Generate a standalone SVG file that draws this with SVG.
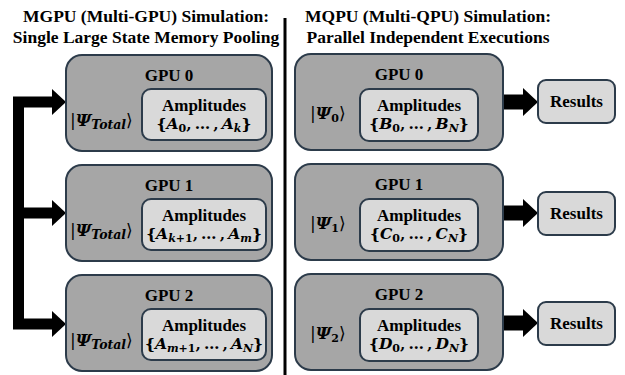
<svg xmlns="http://www.w3.org/2000/svg" width="625" height="375" viewBox="0 0 625 375">
<style>
.title{font-family:"Liberation Serif","Times New Roman",serif;font-weight:bold;font-size:17.5px;fill:#000;text-anchor:middle}
.outer{fill:#a6a6a6;stroke:#2c3b4a;stroke-width:2}
.inner{fill:#d9d9d9;stroke:#2c3b4a;stroke-width:2}
.lbl{font-family:"Liberation Serif","Times New Roman",serif;font-weight:bold;font-size:17px;fill:#000;text-anchor:middle}
.math{font-family:"DejaVu Serif",serif;font-weight:bold;font-size:15.5px;fill:#000}
.psi{font-size:17px}
.mid{text-anchor:middle}
.it{font-style:italic}
.sub{font-size:11px}
.subT{font-size:12.5px}
.br{font-weight:normal}
.conn{fill:none;stroke:#000;stroke-width:11;stroke-linejoin:miter}
.connR{fill:none;stroke:#000;stroke-width:15}
.head{fill:#000}
</style>
<text class="title" x="146" y="22">MGPU (Multi-GPU) Simulation:</text>
<text class="title" x="146" y="43">Single Large State Memory Pooling</text>
<text class="title" x="428" y="22">MQPU (Multi-QPU) Simulation:</text>
<text class="title" x="428" y="43">Parallel Independent Executions</text>
<line x1="285" y1="18" x2="285" y2="375" stroke="#000" stroke-width="3"/>

<g id="connectors">
<path class="conn" d="M53,102 H18.5 V324 H53"/>
<path class="conn" d="M18,213 H53"/>
<polygon class="head" points="52,89 66,102 52,115"/>
<polygon class="head" points="52,200 66,213 52,226"/>
<polygon class="head" points="52,311 66,324 52,337"/>
<path class="connR" d="M503,102 H524"/>
<path class="connR" d="M503,213 H524"/>
<path class="connR" d="M503,323 H524"/>
<polygon class="head" points="523,88 538,102 523,116"/>
<polygon class="head" points="523,199 538,213 523,227"/>
<polygon class="head" points="523,309 538,323 523,337"/>
</g>

<g id="mgpu0">
<rect class="outer" x="66" y="55" width="206" height="96" rx="16"/>
<text class="lbl" x="169" y="81">GPU 0</text>
<text class="math psi" x="70" y="126"><tspan class="br">|</tspan><tspan class="it">Ψ</tspan><tspan class="it subT" dy="3">Total</tspan><tspan class="br" dy="-3">⟩</tspan></text>
<rect class="inner" x="142" y="89" width="124" height="51" rx="9"/>
<text class="lbl" x="204" y="111">Amplitudes</text>
<text class="math mid" x="204" y="129">{<tspan class="it">A</tspan><tspan class="sub" dy="3">0</tspan><tspan dy="-3">,&#8201;…&#8201;,&#8201;</tspan><tspan class="it">A</tspan><tspan class="it sub" dy="3">k</tspan><tspan dy="-3">}</tspan></text>
</g>

<g id="mgpu1">
<rect class="outer" x="66" y="165" width="206" height="96" rx="16"/>
<text class="lbl" x="169" y="191">GPU 1</text>
<text class="math psi" x="70" y="236"><tspan class="br">|</tspan><tspan class="it">Ψ</tspan><tspan class="it subT" dy="3">Total</tspan><tspan class="br" dy="-3">⟩</tspan></text>
<rect class="inner" x="142" y="199" width="124" height="51" rx="9"/>
<text class="lbl" x="204" y="221">Amplitudes</text>
<text class="math mid" x="204" y="239">{<tspan class="it">A</tspan><tspan class="it sub" dy="3">k</tspan><tspan class="sub">+1</tspan><tspan dy="-3">,&#8201;…&#8201;,&#8201;</tspan><tspan class="it">A</tspan><tspan class="it sub" dy="3">m</tspan><tspan dy="-3">}</tspan></text>
</g>

<g id="mgpu2">
<rect class="outer" x="66" y="275" width="206" height="96" rx="16"/>
<text class="lbl" x="169" y="301">GPU 2</text>
<text class="math psi" x="70" y="346"><tspan class="br">|</tspan><tspan class="it">Ψ</tspan><tspan class="it subT" dy="3">Total</tspan><tspan class="br" dy="-3">⟩</tspan></text>
<rect class="inner" x="142" y="309" width="124" height="51" rx="9"/>
<text class="lbl" x="204" y="331">Amplitudes</text>
<text class="math mid" x="204" y="349">{<tspan class="it">A</tspan><tspan class="it sub" dy="3">m</tspan><tspan class="sub">+1</tspan><tspan dy="-3">,&#8201;…&#8201;,&#8201;</tspan><tspan class="it">A</tspan><tspan class="it sub" dy="3">N</tspan><tspan dy="-3">}</tspan></text>
</g>

<g id="mqpu0">
<rect class="outer" x="295" y="54" width="208" height="96" rx="16"/>
<text class="lbl" x="399" y="80">GPU 0</text>
<text class="math psi" x="310" y="119"><tspan class="br">|</tspan><tspan class="it">Ψ</tspan><tspan class="sub" dy="3">0</tspan><tspan class="br" dy="-3">⟩</tspan></text>
<rect class="inner" x="360" y="89" width="118" height="52" rx="9"/>
<text class="lbl" x="419" y="111">Amplitudes</text>
<text class="math mid" x="419" y="129">{<tspan class="it">B</tspan><tspan class="sub" dy="3">0</tspan><tspan dy="-3">,&#8201;…&#8201;,&#8201;</tspan><tspan class="it">B</tspan><tspan class="it sub" dy="3">N</tspan><tspan dy="-3">}</tspan></text>
</g>

<g id="mqpu1">
<rect class="outer" x="295" y="164" width="208" height="96" rx="16"/>
<text class="lbl" x="399" y="190">GPU 1</text>
<text class="math psi" x="310" y="229"><tspan class="br">|</tspan><tspan class="it">Ψ</tspan><tspan class="sub" dy="3">1</tspan><tspan class="br" dy="-3">⟩</tspan></text>
<rect class="inner" x="360" y="199" width="118" height="52" rx="9"/>
<text class="lbl" x="419" y="221">Amplitudes</text>
<text class="math mid" x="419" y="239">{<tspan class="it">C</tspan><tspan class="sub" dy="3">0</tspan><tspan dy="-3">,&#8201;…&#8201;,&#8201;</tspan><tspan class="it">C</tspan><tspan class="it sub" dy="3">N</tspan><tspan dy="-3">}</tspan></text>
</g>

<g id="mqpu2">
<rect class="outer" x="295" y="274" width="208" height="96" rx="16"/>
<text class="lbl" x="399" y="300">GPU 2</text>
<text class="math psi" x="310" y="339"><tspan class="br">|</tspan><tspan class="it">Ψ</tspan><tspan class="sub" dy="3">2</tspan><tspan class="br" dy="-3">⟩</tspan></text>
<rect class="inner" x="360" y="309" width="118" height="52" rx="9"/>
<text class="lbl" x="419" y="331">Amplitudes</text>
<text class="math mid" x="419" y="349">{<tspan class="it">D</tspan><tspan class="sub" dy="3">0</tspan><tspan dy="-3">,&#8201;…&#8201;,&#8201;</tspan><tspan class="it">D</tspan><tspan class="it sub" dy="3">N</tspan><tspan dy="-3">}</tspan></text>
</g>

<g id="results0">
<rect class="inner" x="538" y="80" width="77" height="43" rx="8"/>
<text class="lbl" x="576.5" y="107">Results</text>
</g>
<g id="results1">
<rect class="inner" x="538" y="192" width="77" height="43" rx="8"/>
<text class="lbl" x="576.5" y="219">Results</text>
</g>
<g id="results2">
<rect class="inner" x="538" y="302" width="77" height="43" rx="8"/>
<text class="lbl" x="576.5" y="329">Results</text>
</g>
</svg>
